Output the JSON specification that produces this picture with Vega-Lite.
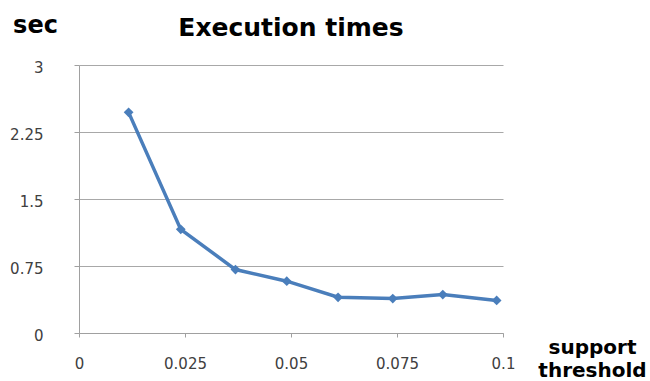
{
  "$schema": "https://vega.github.io/schema/vega-lite/v6.json",
  "autosize": {"type": "none"},
  "padding": {"left": 79, "top": 65, "right": 147, "bottom": 48},
  "width": 424,
  "height": 268,
  "background": "white",
  "title": {
    "text": "Execution times",
    "font": "DejaVu Sans",
    "fontWeight": "bold",
    "fontSize": 25,
    "color": "#000000",
    "anchor": "middle",
    "frame": "group",
    "baseline": "alphabetic",
    "offset": 0,
    "dy": 48
  },
  "data": {
    "values": [
      {"threshold": 0.0117, "sec": 2.47},
      {"threshold": 0.0240, "sec": 1.16},
      {"threshold": 0.0369, "sec": 0.71},
      {"threshold": 0.0490, "sec": 0.58},
      {"threshold": 0.0611, "sec": 0.40},
      {"threshold": 0.0740, "sec": 0.385},
      {"threshold": 0.0858, "sec": 0.43},
      {"threshold": 0.0985, "sec": 0.365}
    ]
  },
  "mark": {
    "type": "line",
    "color": "#4a7ebb",
    "strokeWidth": 3.5,
    "point": {"shape": "diamond", "filled": true, "size": 95, "color": "#4a7ebb"}
  },
  "encoding": {
    "x": {
      "field": "threshold",
      "type": "quantitative",
      "scale": {"domain": [0, 0.1], "nice": false, "zero": true},
      "axis": {
        "values": [0, 0.025, 0.05, 0.075, 0.1],
        "format": ".3~g",
        "grid": false,
        "domainColor": "#a0a0a0",
        "tickColor": "#a0a0a0",
        "tickSize": 4,
        "labelFont": "DejaVu Sans",
        "labelFontSize": 15,
        "labelColor": "#404040",
        "labelBaseline": "alphabetic",
        "labelPadding": 31,
        "labelFlush": false,
        "labelBound": false,
        "labelOverlap": false,
        "title": ["support", "threshold"],
        "titleFont": "DejaVu Sans",
        "titleFontWeight": "bold",
        "titleFontSize": 20,
        "titleColor": "#000000",
        "titleAlign": "center",
        "titleBaseline": "alphabetic",
        "titleLineHeight": 23,
        "titleX": 513,
        "titleY": 20
      }
    },
    "y": {
      "field": "sec",
      "type": "quantitative",
      "scale": {"domain": [0, 3], "nice": false},
      "axis": {
        "values": [0, 0.75, 1.5, 2.25, 3],
        "format": ".3~g",
        "grid": true,
        "gridColor": "#a8a8a8",
        "gridWidth": 1,
        "domainColor": "#a0a0a0",
        "tickColor": "#a0a0a0",
        "tickSize": 5,
        "labelFont": "DejaVu Sans",
        "labelFontSize": 15,
        "labelColor": "#404040",
        "labelAlign": "right",
        "labelPadding": 31,
        "labelOffset": 2,
        "labelOverlap": false,
        "labelFlush": false,
        "title": "sec",
        "titleFont": "DejaVu Sans",
        "titleFontWeight": "bold",
        "titleFontSize": 24,
        "titleColor": "#000000",
        "titleAngle": 0,
        "titleAlign": "center",
        "titleBaseline": "alphabetic",
        "titleX": -44,
        "titleY": -33
      }
    }
  },
  "config": {"view": {"stroke": null}}
}
